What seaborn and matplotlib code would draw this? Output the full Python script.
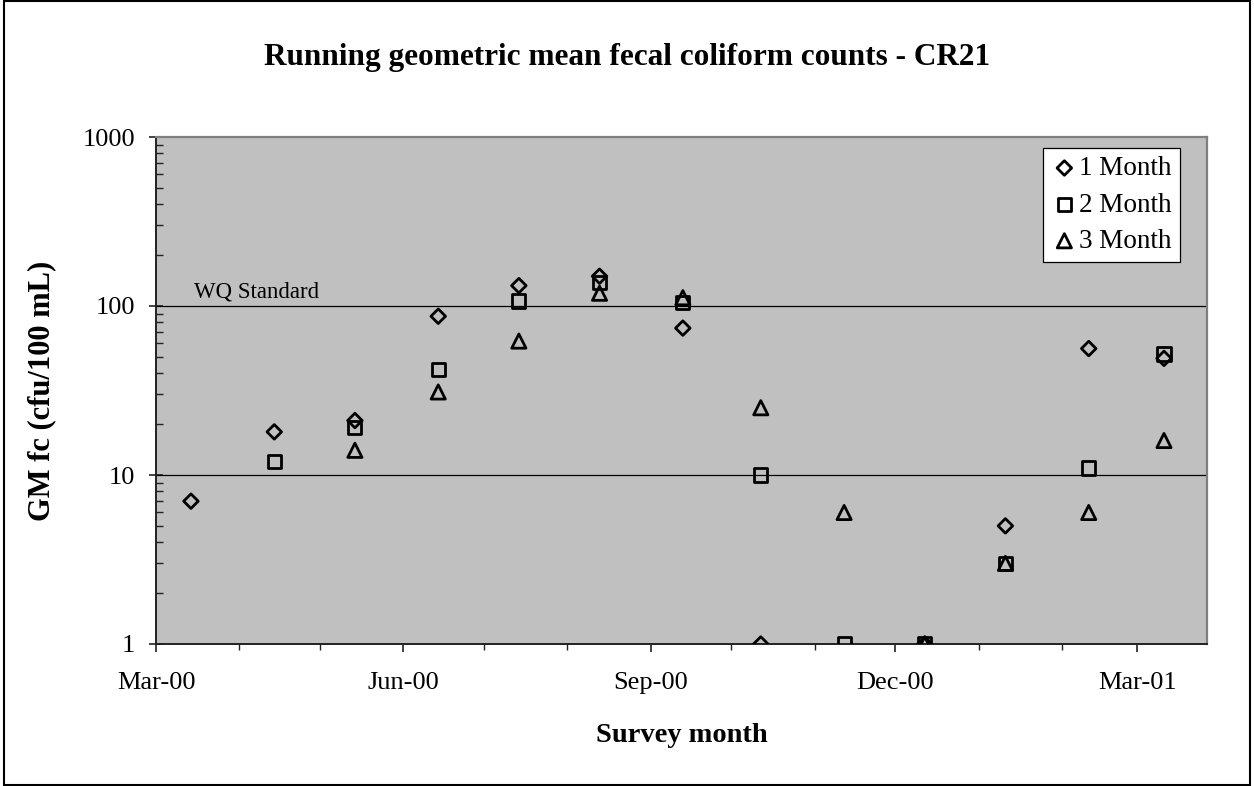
#!/usr/bin/env python3
"""
Running geometric mean fecal coliform counts - CR21 (Excel-style scatter on log axis).
"""
import numpy as np
import pandas as pd
import matplotlib
matplotlib.use('Agg')
import matplotlib.pyplot as plt
import matplotlib.dates as mdates
from matplotlib.ticker import LogLocator, NullFormatter, FixedLocator, FixedFormatter
from matplotlib.patches import Rectangle
import seaborn as sns

# Data
survey_dates = ['2000-03-14', '2000-04-14', '2000-05-14', '2000-06-14', '2000-07-14',
                '2000-08-13', '2000-09-13', '2000-10-12', '2000-11-12', '2000-12-12',
                '2001-01-11', '2001-02-11', '2001-03-11']
gm_1_month = [7, 18, 21, 87, 132, 150, 74, 1, np.nan, 1, 5, 56, 49]
gm_2_month = [np.nan, 12, 19, 42, 107, 138, 105, 10, 1, 1, 3, 11, 52]
gm_3_month = [np.nan, np.nan, 14, 31, 62, 119, 112, 25, 6, 1, 3, 6, 16]
series_names = ['1 Month', '2 Month', '3 Month']
y_ticks = [1, 10, 100, 1000]
wq_standard = 100

df = pd.DataFrame({'date': pd.to_datetime(survey_dates),
                   '1 Month': gm_1_month,
                   '2 Month': gm_2_month,
                   '3 Month': gm_3_month})
long = df.melt(id_vars='date', var_name='series', value_name='gm').dropna()

# Style
sns.set_theme(style='ticks')
plt.rcParams['font.family'] = ['Liberation Serif', 'DejaVu Serif']
for key in ['text.color', 'axes.labelcolor', 'xtick.color', 'ytick.color']:
    plt.rcParams[key] = 'black'

fig = plt.figure(figsize=(12.54, 7.86), dpi=100)
ax = fig.add_axes([156 / 1254, 1 - 644 / 786, (1207 - 156) / 1254, (644 - 137) / 786])
ax.set_facecolor('#C0C0C0')

markers = {'1 Month': 'D', '2 Month': 's', '3 Month': '^'}
sizes = {'1 Month': 55, '2 Month': 90, '3 Month': 105}

for name in series_names:
    sub = long[long['series'] == name]
    sns.scatterplot(data=sub, x='date', y='gm', ax=ax, marker=markers[name],
                    s=sizes[name], facecolor='none', edgecolor='black',
                    linewidth=2.0, label=name, zorder=3)

ax.set_yscale('log')
ax.set_ylim(1, 1000)
ax.set_xlim(pd.Timestamp('2000-03-01'), pd.Timestamp('2001-03-27'))

# gridlines at 10 and 100 only
for gy in [10, 100]:
    ax.axhline(gy, color='black', linewidth=0.9, zorder=1)

ax.yaxis.set_major_locator(FixedLocator(y_ticks))
ax.yaxis.set_major_formatter(FixedFormatter([str(v) for v in y_ticks]))
ax.yaxis.set_minor_locator(LogLocator(base=10, subs=np.arange(2, 10)))
ax.yaxis.set_minor_formatter(NullFormatter())

ax.xaxis.set_major_locator(mdates.MonthLocator(bymonth=[3, 6, 9, 12]))
ax.xaxis.set_minor_locator(mdates.MonthLocator())
ax.xaxis.set_major_formatter(mdates.DateFormatter('%b-%y'))

ax.tick_params(axis='y', which='major', direction='inout', length=10, width=1.2,
               color='#222222', labelsize=19, pad=10)
ax.tick_params(axis='y', which='minor', direction='in', length=5, width=1.0, color='#222222')
ax.tick_params(axis='x', which='major', direction='out', length=6, width=1.2,
               color='#222222', labelsize=19, pad=14)
ax.tick_params(axis='x', which='minor', direction='out', length=4.5, width=1.0, color='#222222')

for side in ['left', 'bottom']:
    ax.spines[side].set_color('#222222')
    ax.spines[side].set_linewidth(1.4)
for side in ['top', 'right']:
    ax.spines[side].set_visible(True)
    ax.spines[side].set_color('#808080')
    ax.spines[side].set_linewidth(1.6)

ax.set_xlabel('Survey month', fontsize=20.5, fontweight='bold')
ax.xaxis.set_label_coords(0.5, -(736 - 644) / 507)
ax.xaxis.label.set_va('center')
ax.set_ylabel('GM fc (cfu/100 mL)', fontsize=22, fontweight='bold')
ax.yaxis.set_label_coords(-(156 - 42) / 1051, 0.5)
ax.yaxis.label.set_va('center')

ax.annotate('WQ Standard', xy=(pd.Timestamp('2000-03-15'), wq_standard),
            xytext=(0, 6), textcoords='offset points', fontsize=16.5,
            va='baseline', ha='left', zorder=2)

leg = ax.legend(loc='upper right', bbox_to_anchor=((1180 - 156) / 1051, (644 - 148) / 507),
                borderaxespad=0, fontsize=19.5, frameon=True, fancybox=False,
                handletextpad=0.05, handlelength=1.0, labelspacing=0.42,
                borderpad=0.3, edgecolor='black', facecolor='white', framealpha=1)
leg.get_frame().set_linewidth(0.9)

fig.text(0.5, 1 - 57 / 786, 'Running geometric mean fecal coliform counts - CR21',
         ha='center', va='center', fontsize=22.5, fontweight='bold')

# chart area border
fig.patches.append(Rectangle((4 / 1254, 1 / 786), 1246 / 1254, 784 / 786,
                             transform=fig.transFigure, fill=False,
                             edgecolor='black', linewidth=1.5))

fig.savefig('out.png', dpi=100)
